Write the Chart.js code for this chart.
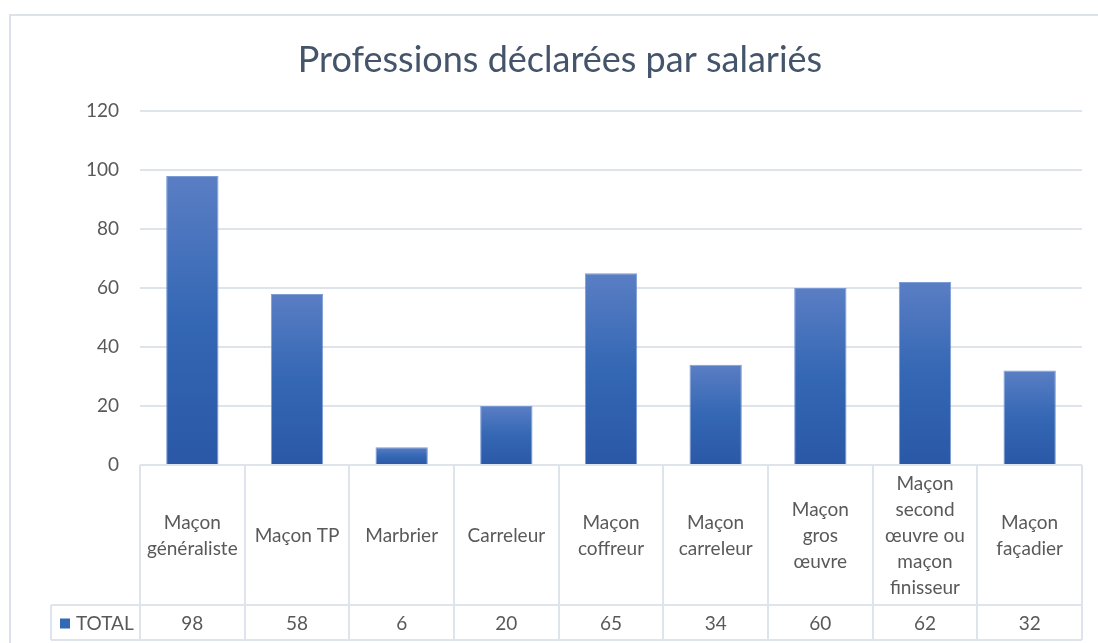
<!DOCTYPE html>
<html>
<head>
<meta charset="utf-8">
<script src="https://cdn.jsdelivr.net/npm/chart.js@4/dist/chart.umd.min.js"></script>
<style>
	html, body { margin: 0; padding: 0; background: #fff; }
	#wrap { width: 1098px; height: 643px; position: relative; }
</style>
</head>
<body>
<div id="wrap"><canvas id="plot"></canvas></div>
<script>
const titleText = 'Professions déclarées par salariés';
const categories = [
	['Maçon', 'généraliste'],
	'Maçon TP',
	'Marbrier',
	'Carreleur',
	['Maçon', 'coffreur'],
	['Maçon', 'carreleur'],
	['Maçon', 'gros', 'œuvre'],
	['Maçon', 'second', 'œuvre ou', 'maçon', 'finisseur'],
	['Maçon', 'façadier']
];
const totals = [98, 58, 6, 20, 65, 34, 60, 62, 32];
const seriesName = 'TOTAL';
const yTicks = [0, 20, 40, 60, 80, 100, 120];

const FONT = 'Lato';
const textColor = '#595959';
const lineColor = '#dfe3eb';

function barGradient(ctx) {
	const chart = ctx.chart;
	const y = chart.scales.y;
	if (!y || ctx.type !== 'data') return '#3366b3';
	const top = y.getPixelForValue(ctx.raw);
	const bottom = y.getPixelForValue(0);
	if (!isFinite(top) || !isFinite(bottom) || top === bottom) return '#3366b3';
	const g = chart.ctx.createLinearGradient(0, top, 0, bottom);
	g.addColorStop(0, '#5a7ec4');
	g.addColorStop(0.5, '#3467b4');
	g.addColorStop(1, '#2a58a6');
	return g;
}

const tablePlugin = {
	id: 'tablePlugin',
	beforeDraw(chart) {
		const c = chart.ctx;
		c.save();
		c.strokeStyle = '#dde2ea';
		c.lineWidth = 2;
		c.beginPath();
		c.moveTo(10, 643);
		c.lineTo(10, 15);
		c.lineTo(1098, 15);
		c.stroke();
		c.restore();
	},
	afterDraw(chart) {
		const c = chart.ctx;
		const x = chart.scales.x;
		const area = chart.chartArea;
		const half = (x.getPixelForValue(1) - x.getPixelForValue(0)) / 2;
		const rowTop = 605, rowBottom = 640, left = 51;
		c.save();
		c.strokeStyle = lineColor;
		c.lineWidth = 2;
		c.beginPath();
		c.moveTo(area.left, area.bottom);
		c.lineTo(area.right, area.bottom);
		c.moveTo(left, rowTop);
		c.lineTo(area.right, rowTop);
		c.moveTo(left, rowBottom);
		c.lineTo(area.right, rowBottom);
		c.moveTo(left, rowTop);
		c.lineTo(left, rowBottom);
		for (let i = 0; i <= categories.length; i++) {
			const px = Math.round(x.getPixelForValue(0) - half + i * 2 * half);
			c.moveTo(px, area.bottom);
			c.lineTo(px, rowBottom);
		}
		c.stroke();

		// legend key + values
		const midY = (rowTop + rowBottom) / 2 + 1;
		c.fillStyle = '#3467b4';
		c.fillRect(60, midY - 5, 10, 10);
		c.fillStyle = textColor;
		c.font = '19px ' + FONT;
		c.textBaseline = 'middle';
		c.textAlign = 'left';
		c.fillText(seriesName, 76, midY);
		c.textAlign = 'center';
		totals.forEach((v, i) => {
			c.fillText(String(v), x.getPixelForValue(i), midY);
		});

		// title
		c.fillStyle = '#44546a';
		c.font = '36px ' + FONT;
		c.fillText(titleText, 560, 60);
		c.restore();
	}
};

const plot = new Chart(document.getElementById('plot').getContext('2d'), {
	type: 'bar',
	data: {
		labels: categories,
		datasets: [{
			label: seriesName,
			data: totals,
			backgroundColor: barGradient,
			borderColor: 'rgba(110, 145, 210, 0.9)',
			borderWidth: 1,
			barPercentage: 1,
			categoryPercentage: 0.5
		}]
	},
	options: {
		responsive: true,
		maintainAspectRatio: false,
		animation: false,
		layout: {
			padding: {
				left: 22,
				right: 16,
				top: 111,
				bottom: 0
			}
		},
		plugins: {
			legend: { display: false },
			title: { display: false },
			tooltip: { enabled: false }
		},
		scales: {
			x: {
				grid: { display: false },
				border: { display: false },
				afterFit(scale) { scale.height = 178; },
				ticks: {
					color: textColor,
					padding: 11,
					maxRotation: 0,
					autoSkip: false,
					crossAlign: 'center',
					font: { family: FONT, size: 19, lineHeight: 26 / 19 }
				}
			},
			y: {
				min: 0,
				max: 120,
				afterFit(scale) { scale.width = 118; },
				afterBuildTicks(scale) { scale.ticks = yTicks.map(v => ({ value: v })); },
				grid: {
					color: lineColor,
					lineWidth: 2,
					drawTicks: false
				},
				border: { display: false },
				ticks: {
					color: textColor,
					padding: 21,
					font: { family: FONT, size: 19 }
				}
			}
		}
	},
	plugins: [tablePlugin]
});
</script>
</body>
</html>
